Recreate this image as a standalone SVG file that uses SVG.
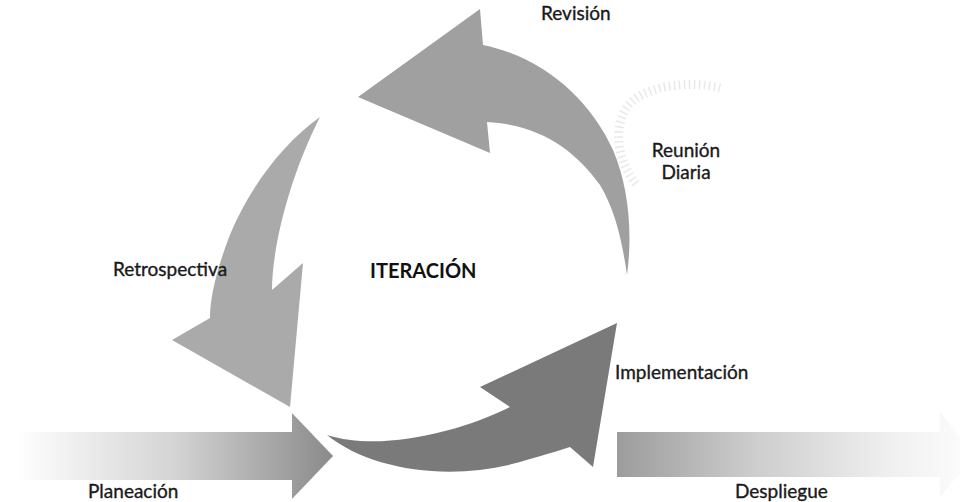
<svg xmlns="http://www.w3.org/2000/svg" width="960" height="502" viewBox="0 0 960 502">
<defs>
<style>
.lbl{font-family:Lato,"Open Sans","Liberation Sans",sans-serif;font-size:19px;fill:#1a1a1a;stroke:#1a1a1a;stroke-width:0.35}
.title{font-family:Lato,"Open Sans","Liberation Sans",sans-serif;font-size:20px;font-weight:bold;fill:#111}
.arrowA{fill:#a0a0a0}
.arrowB{fill:#aaaaaa}
.arrowC{fill:#7a7a7a}
</style>
<linearGradient id="gPlan" x1="15" y1="0" x2="333" y2="0" gradientUnits="userSpaceOnUse">
<stop offset="0" stop-color="#ffffff"/>
<stop offset="0.5" stop-color="#d4d4d4"/>
<stop offset="1" stop-color="#8a8a8a"/>
</linearGradient>
<linearGradient id="gDesp" x1="617" y1="0" x2="960" y2="0" gradientUnits="userSpaceOnUse">
<stop offset="0" stop-color="#9c9c9c"/>
<stop offset="0.4" stop-color="#cdcdcd"/>
<stop offset="0.8" stop-color="#f0f0f0"/>
<stop offset="1" stop-color="#fbfbfb"/>
</linearGradient>
</defs>
<rect width="960" height="502" fill="#ffffff"/>
<g id="connectors">
<g id="arrow-revision">
<path class="arrowA" d="M358,97 L480,9 L483,45 C545,58 590,100 613,150 C628,185 633,230 627,275 C622,240 615,210 600,185 C575,150 540,125 487,122 L490,153 Z"/>
</g>
<g id="arrow-retrospectiva">
<path class="arrowB" d="M320,117 C280,145 245,195 228,240 C215,275 210,300 210,318 L172,340 L290,407 L303,263 L272,290 C272,250 288,180 320,117 Z"/>
</g>
<g id="arrow-implementacion">
<path class="arrowC" d="M327,435 C370,470 450,482 520,462 C540,456 558,451 570,447 L593,467 L617,323 L480,387 L510,407 C460,432 380,452 327,435 Z"/>
</g>
<g id="arrow-planeacion">
<path fill="url(#gPlan)" d="M15,432 L292,432 L292,413 L333,456 L292,499 L292,480 L15,480 Z"/>
</g>
<g id="arrow-despliegue">
<path fill="url(#gDesp)" d="M617,432 L940,432 L940,412 L975,455 L940,497 L940,477 L617,477 Z"/>
</g>
<g id="arrow-reunion">
<path d="M720,88 C690,80 640,85 625,110 C612,135 620,165 638,186" fill="none" stroke="#d6d6d6" stroke-width="9" stroke-dasharray="1.5 3.5" opacity="0.55"/>
</g>
</g>
<g id="node-revision"><text class="lbl" x="541" y="20">Revisión</text></g>
<g id="node-reunion"><text class="lbl" x="686" y="157" text-anchor="middle">Reunión</text><text class="lbl" x="686" y="179" text-anchor="middle">Diaria</text></g>
<g id="node-retrospectiva"><text class="lbl" x="113" y="276">Retrospectiva</text></g>
<g id="node-iteracion"><text class="title" x="370" y="278">ITERACIÓN</text></g>
<g id="node-implementacion"><text class="lbl" x="615" y="379">Implementación</text></g>
<g id="node-planeacion"><text class="lbl" x="88" y="498">Planeación</text></g>
<g id="node-despliegue"><text class="lbl" x="735" y="498">Despliegue</text></g>
</svg>
